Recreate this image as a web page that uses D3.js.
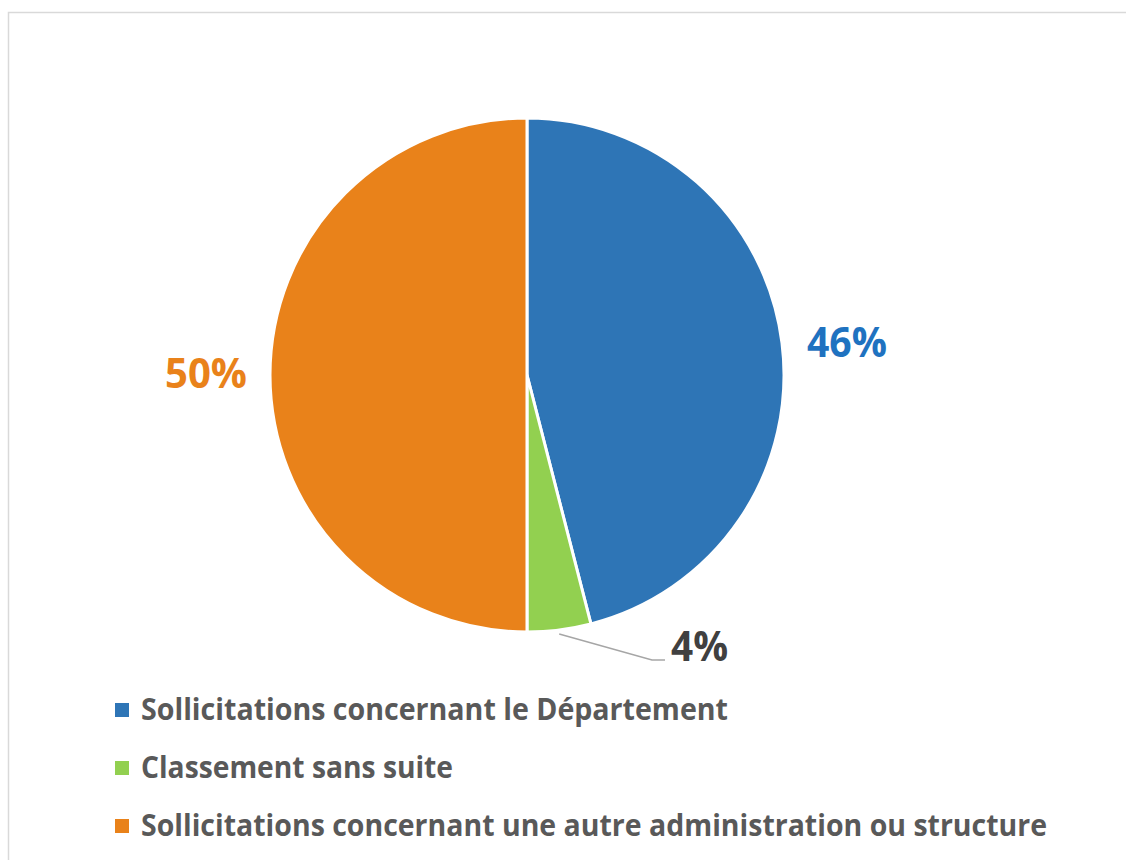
<!DOCTYPE html>
<html><head><meta charset="utf-8">
<script src="https://cdn.jsdelivr.net/npm/d3@7"></script>
<style>body{margin:0;background:#fff}svg{display:block}text{font-family:"Open Sans",sans-serif;font-weight:700}</style>
</head><body><svg id="c" width="1126" height="860"></svg>
<script>
const categories = ["Sollicitations concernant le Département","Classement sans suite","Sollicitations concernant une autre administration ou structure"];
const values = [46, 4, 50];
const labels = ["46%", "4%", "50%"];
const colors = ["#2e75b6", "#92d050", "#e9821a"];
const labelColors = ["#1f72c0", "#404040", "#e9821a"];

const svg = d3.select("#c");
svg.append("rect").attr("x",8.5).attr("y",12.5).attr("width",1130).attr("height",860)
  .attr("fill","#fff").attr("stroke","#d9d9d9").attr("stroke-width",1.5);

const cx = 527, cy = 375, r = 257;
const pie = d3.pie().sort(null).value(d=>d)(values);
const arc = d3.arc().innerRadius(0).outerRadius(r);
const g = svg.append("g").attr("transform",`translate(${cx},${cy})`);
g.selectAll("path").data(pie).join("path").attr("d",arc)
  .attr("fill",(d,i)=>colors[i]).attr("stroke","#fff").attr("stroke-width",3).attr("stroke-linejoin","round");

// labels
const lpos = [[807, 357, 80], [671, 661, 57], [165, 388, 82]];
labels.forEach((l,i)=>{
  svg.append("text").attr("x",lpos[i][0]).attr("y",lpos[i][1]).attr("font-size",41)
    .attr("fill",labelColors[i]).attr("textLength",lpos[i][2]).attr("lengthAdjust","spacingAndGlyphs").text(l);
});
// leader line for small slice
const mid = (pie[1].startAngle+pie[1].endAngle)/2;
const p0 = [cx + Math.sin(mid)*r, cy - Math.cos(mid)*r + 4];
svg.append("polyline").attr("points",`${p0[0]},${p0[1]} 652,660 665,660`)
  .attr("fill","none").attr("stroke","#a6a6a6").attr("stroke-width",1.5);

// legend
const ly = [710, 768, 826];
categories.forEach((c,i)=>{
  svg.append("rect").attr("x",115).attr("y",ly[i]-7).attr("width",14).attr("height",14).attr("fill",colors[i]);
});
const lw = [587, 312, 906];
categories.forEach((c,i)=>{
  svg.append("text").attr("x",141).attr("y",ly[i]+10).attr("font-size",31).attr("fill","#595959")
    .attr("textLength",lw[i]).attr("lengthAdjust","spacingAndGlyphs").text(c);
});
</script></body></html>
